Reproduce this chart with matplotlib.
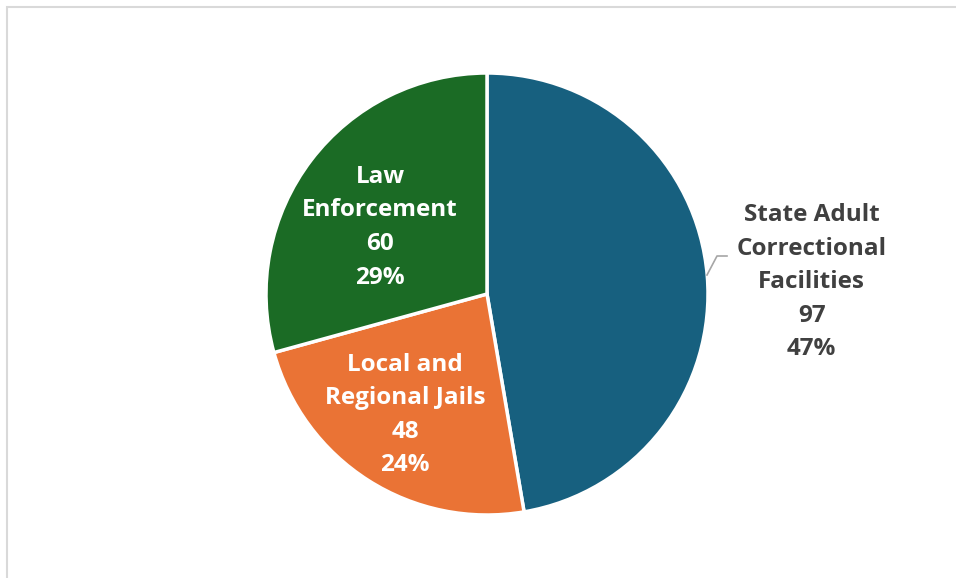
import matplotlib.pyplot as plt
from matplotlib.patches import Rectangle

labels = ["State Adult\nCorrectional\nFacilities", "Local and\nRegional Jails", "Law\nEnforcement"]
values = [97, 48, 60]
pct_labels = ["47%", "24%", "29%"]
colors = ["#17607F", "#EA7335", "#1B6B25"]
text_colors = ["#404040", "white", "white"]
# label anchor points in data units (pie radius = 1)
label_pos = [(1.469, 0.053), (-0.371, -0.548), (-0.484, 0.302)]

plt.rcParams['font.family'] = ['Open Sans', 'DejaVu Sans']

W, H = 956, 578
fig = plt.figure(figsize=(W / 100, H / 100), dpi=100)

# light frame round the chart area
fig.patches.append(Rectangle((7 / W, -0.05), 1.1, 1 - 7 / H + 0.05,
                             transform=fig.transFigure, fill=False,
                             edgecolor="#D9D9D9", linewidth=1.5))

cx, cy, r = 487, 294, 221
ax = fig.add_axes([(cx - r) / W, (H - cy - r) / H, 2 * r / W, 2 * r / H])
ax.pie(values, colors=colors, startangle=90, counterclock=False, radius=1,
       wedgeprops=dict(edgecolor="white", linewidth=2.5))
ax.set_xlim(-1, 1)
ax.set_ylim(-1, 1)
ax.set_aspect("equal")
ax.axis("off")

for lab, v, pct, tc, (x, y) in zip(labels, values, pct_labels, text_colors, label_pos):
    ax.text(x, y, f"{lab}\n{v}\n{pct}", ha="center", va="center",
            color=tc, fontsize=17.5, fontweight="bold", linespacing=1.53,
            clip_on=False)

# leader line to the outside label
ax.plot([(707 - cx) / r, (717 - cx) / r, (727 - cx) / r],
        [(cy - 275) / r, (cy - 256) / r, (cy - 256) / r],
        color="#A6A6A6", linewidth=1.2, clip_on=False)

fig.savefig("out.png", dpi=100)
